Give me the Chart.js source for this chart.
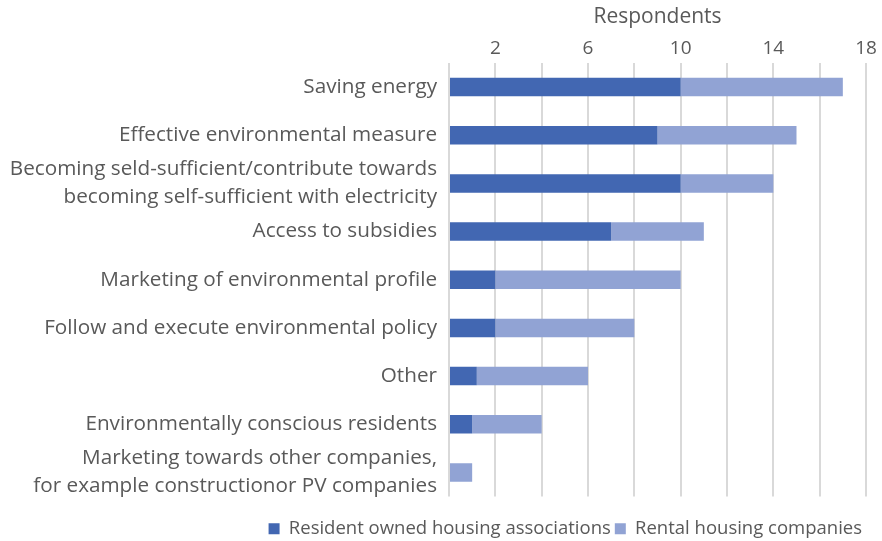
<!DOCTYPE html>
<html>
<head>
<meta charset="utf-8">
<script src="https://cdn.jsdelivr.net/npm/chart.js@4"></script>
<style>
    html, body { margin: 0; padding: 0; background: #ffffff; }
    #wrap { width: 882px; height: 541px; position: relative; }
</style>
</head>
<body>
<div id="wrap"><canvas id="barChart"></canvas></div>
<script>
const categories = [
    "Saving energy",
    "Effective environmental measure",
    ["Becoming seld-sufficient/contribute towards", "becoming self-sufficient with electricity"],
    "Access to subsidies",
    "Marketing of environmental profile",
    "Follow and execute environmental policy",
    "Other",
    "Environmentally conscious residents",
    ["Marketing towards other companies,", "for example constructionor PV companies"]
];
const residentOwned = [10, 9, 10, 7, 2, 2, 1.2, 1, 0];
const rentalCompanies = [7, 6, 4, 4, 8, 6, 4.8, 3, 1];
const shownTicks = [2, 6, 10, 14, 18];

const textColor = "#595959";
const gridColor = "#d9d9d9";
const fontFamily = "'Open Sans', 'Noto Sans', sans-serif";

const ctx = document.getElementById('barChart').getContext('2d');
const chart = new Chart(ctx, {
    type: 'bar',
    data: {
        labels: categories,
        datasets: [{
            label: "Resident owned housing associations",
            data: residentOwned,
            backgroundColor: "#4267b2"
        }, {
            label: "Rental housing companies",
            data: rentalCompanies,
            backgroundColor: "#91a3d4"
        }]
    },
    options: {
        indexAxis: 'y',
        responsive: true,
        maintainAspectRatio: false,
        animation: false,
        layout: { padding: { left: 5, right: 16, top: 4, bottom: -7 } },
        scales: {
            x: {
                position: 'top',
                stacked: true,
                min: 0,
                max: 18,
                title: {
                    display: true,
                    text: "Respondents",
                    color: textColor,
                    font: { family: fontFamily, size: 21 },
                    padding: { top: 0, bottom: 5 }
                },
                ticks: {
                    stepSize: 2,
                    color: textColor,
                    font: { family: fontFamily, size: 19 },
                    padding: 3,
                    maxRotation: 0,
                    autoSkip: false,
                    //only every other gridline gets a label
                    callback: function (value) {
                        return shownTicks.includes(value) ? value : '';
                    }
                },
                grid: {
                    color: gridColor,
                    lineWidth: 2,
                    drawTicks: false
                },
                border: { display: false }
            },
            // empty axis, only keeps a gap between the bars and the legend
            gap: {
                type: 'linear',
                position: 'bottom',
                ticks: { display: false },
                grid: { display: false, drawTicks: false },
                border: { display: false },
                afterFit: function (scale) {
                    scale.height = 19;
                }
            },
            y: {
                stacked: true,
                ticks: {
                    color: textColor,
                    font: { family: fontFamily, size: 20.7, lineHeight: 1.35 },
                    padding: 12,
                    autoSkip: false
                },
                grid: { display: false, drawTicks: false },
                border: { display: false },
                //labels are wider than the default half-width limit
                afterFit: function (scale) {
                    scale.width = 444;
                }
            }
        },
        datasets: {
            bar: { barPercentage: 0.385, categoryPercentage: 1 }
        },
        plugins: {
            legend: {
                position: 'bottom',
                align: 'end',
                labels: {
                    color: textColor,
                    font: { family: fontFamily, size: 18.5 },
                    boxWidth: 11,
                    boxHeight: 11,
                    padding: 4
                }
            },
            tooltip: { enabled: false }
        }
    }
});
</script>
</body>
</html>
